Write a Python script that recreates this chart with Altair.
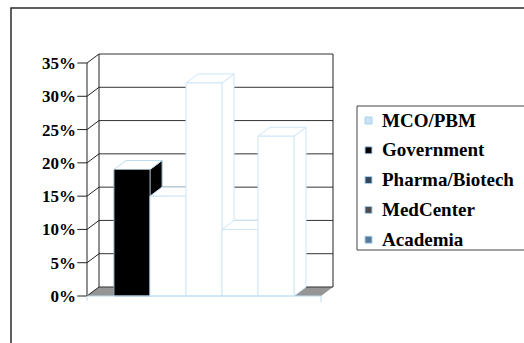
import altair as alt
import pandas as pd

# ---- data ----
categories = ["MCO/PBM", "Government", "Pharma/Biotech", "MedCenter", "Academia"]
values = [0.19, 0.15, 0.32, 0.10, 0.24]
tick_values = [0, 0.05, 0.10, 0.15, 0.20, 0.25, 0.30, 0.35]
tick_labels = ["0%", "5%", "10%", "15%", "20%", "25%", "30%", "35%"]

# ---- styles ----
bar_fills = ["#000000", "#ffffff", "#ffffff", "#ffffff", "#ffffff"]
top_fills = ["#ffffff", "#ffffff", "#ffffff", "#ffffff", "#ffffff"]
bar_strokes = ["#8fa6b6", "#cde7f8", "#cde7f8", "#cde7f8", "#cde7f8"]
top_strokes = ["#bcdcf0", "#cde7f8", "#cde7f8", "#cde7f8", "#cde7f8"]
legend_colors = ["#c8e2f5", "#000000", "#33475a", "#4d4d4d", "#56799a"]
FONT = "Liberation Serif"

# ---- 3D geometry (layout constants) ----
DX = 1 / 3          # depth offset in x units
DY = 0.01352        # depth offset in y units
X0 = 0.75           # first bar start
BW = 1.0            # bar width
FLOOR_W = 6.5
XMAX = FLOOR_W + DX
YMAX = 0.35 + DY
TICK_LEN = 0.27

xs = alt.Scale(domain=[0, XMAX], nice=False, zero=False)
ys = alt.Scale(domain=[0, YMAX], nice=False, zero=False)

bars = pd.DataFrame({
    "cat": categories,
    "v": values,
    "bar": list(range(len(values))),
    "x0": [X0 + i * BW for i in range(len(values))],
    "fc": bar_fills,
    "sc": bar_strokes,
})
bars["x1"] = bars["x0"] + BW
bars["base"] = 0.0

side_rows, top_rows = [], []
for i in range(len(values)):
    v = values[i]
    x0 = X0 + i * BW
    x1 = x0 + BW
    fc, sc = bar_fills[i], bar_strokes[i]
    tf, ts = top_fills[i], top_strokes[i]
    side_rows.append(dict(bar=i, x=x1, ya=0.0, yb=v, fc=fc, sc=sc))
    side_rows.append(dict(bar=i, x=x1 + DX, ya=DY, yb=v + DY, fc=fc, sc=sc))
    top_rows.append(dict(bar=i, x=x0, ya=v, yb=v, fc=tf, sc=ts))
    top_rows.append(dict(bar=i, x=x0 + DX, ya=v, yb=v + DY, fc=tf, sc=ts))
    top_rows.append(dict(bar=i, x=x1, ya=v, yb=v + DY, fc=tf, sc=ts))
    top_rows.append(dict(bar=i, x=x1 + DX, ya=v + DY, yb=v + DY, fc=tf, sc=ts))
sides = pd.DataFrame(side_rows)
tops = pd.DataFrame(top_rows)

ticks = pd.DataFrame({"t": tick_values, "lab": tick_labels})
ticks["tb"] = ticks["t"] + DY
ticks["xf"] = 0.0
ticks["xt"] = -TICK_LEN
ticks["xb"] = DX
ticks["xe"] = XMAX

floor = pd.DataFrame({"x": [0.0, DX, FLOOR_W, XMAX],
                      "ya": [0.0, 0.0, 0.0, DY],
                      "yb": [0.0, DY, DY, DY]})

walls = pd.DataFrame({"x": [0.0, DX, XMAX], "ya": [0.0, DY, DY], "yb": [0.35, 0.35 + DY, 0.35 + DY]})
front_edge = pd.DataFrame({"xa": [0.0], "xb": [FLOOR_W], "y": [0.0]})
edge_ticks = pd.DataFrame({"x": [0.0, FLOOR_W], "ya": [0.0, 0.0], "yb": [-0.007, -0.009]})

one = pd.DataFrame({"a": [0]})

border = alt.Chart(one).mark_rect(fill="white", fillOpacity=0, stroke="#2b2b2b", strokeWidth=1.5).encode(
    x=alt.value(-76), x2=alt.value(470), y=alt.value(-46), y2=alt.value(340))

legend_box = alt.Chart(one).mark_rect(fill="white", fillOpacity=0, stroke="#444444", strokeWidth=1).encode(
    x=alt.value(270), x2=alt.value(470), y=alt.value(52), y2=alt.value(196))

floor_l = alt.Chart(floor).mark_area(color="#959595", orient="vertical").encode(
    x=alt.X("x:Q", scale=xs, axis=None),
    y=alt.Y("ya:Q", scale=ys, axis=None, stack=None), y2="yb:Q")

grid_back = alt.Chart(ticks).mark_rule(color="#333333", strokeWidth=1).encode(
    x=alt.X("xb:Q", scale=xs, axis=None), x2="xe:Q",
    y=alt.Y("tb:Q", scale=ys, axis=None))

diag = alt.Chart(ticks).mark_rule(color="#222222", strokeWidth=1).encode(
    x=alt.X("xf:Q", scale=xs, axis=None), x2="xb:Q",
    y=alt.Y("t:Q", scale=ys, axis=None), y2="tb:Q")

tick_l = alt.Chart(ticks).mark_rule(color="#222222", strokeWidth=1).encode(
    x=alt.X("xt:Q", scale=xs, axis=None), x2="xf:Q",
    y=alt.Y("t:Q", scale=ys, axis=None))

label_l = alt.Chart(ticks).mark_text(align="right", baseline="middle", dx=-11, dy=1,
                                     font=FONT, fontSize=17, fontWeight="bold", color="#000000").encode(
    x=alt.X("xf:Q", scale=xs, axis=None),
    y=alt.Y("t:Q", scale=ys, axis=None),
    text="lab:N")

wall_l = alt.Chart(walls).mark_rule(color="#222222", strokeWidth=1).encode(
    x=alt.X("x:Q", scale=xs, axis=None),
    y=alt.Y("ya:Q", scale=ys, axis=None), y2="yb:Q")

side_l = alt.Chart(sides).mark_area(orient="vertical", strokeWidth=1).encode(
    x=alt.X("x:Q", scale=xs, axis=None),
    y=alt.Y("ya:Q", scale=ys, axis=None, stack=None), y2="yb:Q",
    detail="bar:N",
    fill=alt.Fill("fc:N", scale=None),
    stroke=alt.Stroke("sc:N", scale=None))

top_l = alt.Chart(tops).mark_area(orient="vertical", strokeWidth=1).encode(
    x=alt.X("x:Q", scale=xs, axis=None),
    y=alt.Y("ya:Q", scale=ys, axis=None, stack=None), y2="yb:Q",
    detail="bar:N",
    fill=alt.Fill("fc:N", scale=None),
    stroke=alt.Stroke("sc:N", scale=None))

front_l = alt.Chart(bars).mark_rect(strokeWidth=1).encode(
    x=alt.X("x0:Q", scale=xs, axis=None), x2="x1:Q",
    y=alt.Y("base:Q", scale=ys, axis=None), y2="v:Q",
    fill=alt.Fill("fc:N", scale=None),
    stroke=alt.Stroke("sc:N", scale=None))

edge_l = alt.Chart(front_edge).mark_rule(color="#bcdcf0", strokeWidth=1).encode(
    x=alt.X("xa:Q", scale=xs, axis=None), x2="xb:Q",
    y=alt.Y("y:Q", scale=ys, axis=None))

edge_t = alt.Chart(edge_ticks).mark_rule(color="#bcdcf0", strokeWidth=1).encode(
    x=alt.X("x:Q", scale=xs, axis=None),
    y=alt.Y("ya:Q", scale=ys, axis=None), y2="yb:Q")

legend_l = alt.Chart(bars).mark_point(filled=True, opacity=0, shape="square").encode(
    x=alt.X("x0:Q", scale=xs, axis=None),
    y=alt.Y("v:Q", scale=ys, axis=None),
    color=alt.Color("cat:N", scale=alt.Scale(domain=categories, range=legend_colors),
                    legend=alt.Legend(title=None, orient="none", legendX=272, legendY=57,
                                      symbolType="square", symbolSize=49, symbolOpacity=1,
                                      symbolStrokeColor="#a9d2ee", symbolStrokeWidth=1,
                                      labelFont=FONT, labelFontSize=19, labelFontWeight="bold",
                                      labelColor="#000000", labelOffset=4, padding=0,
                                      rowPadding=9.8)))

chart = alt.layer(
    border, legend_box, floor_l, grid_back, diag, wall_l, tick_l, label_l,
    side_l, top_l, front_l, edge_l, edge_t, legend_l
).properties(
    width=246, height=242,
    autosize=alt.AutoSizeParams(type="none"),
    padding={"left": 87, "top": 54, "right": 191, "bottom": 47},
    background="white",
).configure_view(stroke=None)

chart.save("out.html", embed_options={"renderer": "svg", "actions": False})
